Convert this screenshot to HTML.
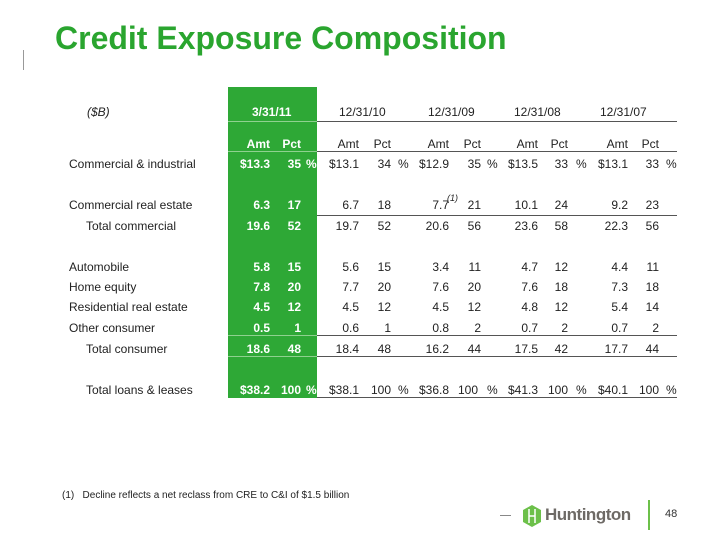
<!DOCTYPE html>
<html><head><meta charset="utf-8"><style>
body{margin:0;width:720px;height:540px;background:#fff;position:relative;overflow:hidden;font-family:"Liberation Sans",Arial,sans-serif;color:#222}
div{position:absolute;white-space:nowrap}
.c{font-size:12px;line-height:16px;width:70px;text-align:right}
.l{font-size:12px;line-height:16px}
.w{color:#fff;font-weight:bold}
.ln{height:1px;background:#555;left:317px;width:360px}
.gl{height:1px;background:#8fd18f;left:228px;width:89px}
</style></head><body>
<div style="left:23px;top:50px;width:1px;height:20px;background:#999"></div>
<div style="left:55px;top:20px;font-size:32px;font-weight:bold;color:#2aa52f">Credit Exposure Composition</div>
<div style="left:228px;top:87px;width:89px;height:311px;background:#2ea836"></div>
<div class="gl" style="top:121px"></div><div class="gl" style="top:151px"></div>
<div class="gl" style="top:335px"></div><div class="gl" style="top:356px"></div>
<div class="ln" style="top:121px"></div><div class="ln" style="top:151px"></div>
<div class="ln" style="top:215px"></div><div class="ln" style="top:335px"></div>
<div class="ln" style="top:356px"></div><div class="ln" style="top:397px"></div>

<div class="l" style="left:87px;top:104px;font-style:italic">($B)</div>
<div class="l w" style="left:252px;top:104px">3/31/11</div>
<div class="l" style="left:339px;top:104px">12/31/10</div>
<div class="l" style="left:428px;top:104px">12/31/09</div>
<div class="l" style="left:514px;top:104px">12/31/08</div>
<div class="l" style="left:600px;top:104px">12/31/07</div>

<div class="l" style="left:69px;top:156px">Commercial &amp; industrial</div>
<div class="l" style="left:69px;top:197px">Commercial real estate</div>
<div class="l" style="left:86px;top:218px">Total commercial</div>
<div class="l" style="left:69px;top:259px">Automobile</div>
<div class="l" style="left:69px;top:279px">Home equity</div>
<div class="l" style="left:69px;top:299px">Residential real estate</div>
<div class="l" style="left:69px;top:320px">Other consumer</div>
<div class="l" style="left:86px;top:341px">Total consumer</div>
<div class="l" style="left:86px;top:382px">Total loans &amp; leases</div>

<div class="c w" style="left:200px;top:136px">Amt</div><div class="c w" style="left:231px;top:136px">Pct</div>
<div class="c" style="left:289px;top:136px">Amt</div><div class="c" style="left:321px;top:136px">Pct</div>
<div class="c" style="left:379px;top:136px">Amt</div><div class="c" style="left:411px;top:136px">Pct</div>
<div class="c" style="left:468px;top:136px">Amt</div><div class="c" style="left:498px;top:136px">Pct</div>
<div class="c" style="left:558px;top:136px">Amt</div><div class="c" style="left:589px;top:136px">Pct</div>

<div class="c w" style="left:200px;top:156px">$13.3</div><div class="c w" style="left:231px;top:156px">35</div><div class="l w" style="left:306px;top:156px">%</div>
<div class="c" style="left:289px;top:156px">$13.1</div><div class="c" style="left:321px;top:156px">34</div><div class="l" style="left:398px;top:156px">%</div>
<div class="c" style="left:379px;top:156px">$12.9</div><div class="c" style="left:411px;top:156px">35</div><div class="l" style="left:487px;top:156px">%</div>
<div class="c" style="left:468px;top:156px">$13.5</div><div class="c" style="left:498px;top:156px">33</div><div class="l" style="left:576px;top:156px">%</div>
<div class="c" style="left:558px;top:156px">$13.1</div><div class="c" style="left:589px;top:156px">33</div><div class="l" style="left:666px;top:156px">%</div>

<div class="c w" style="left:200px;top:197px">6.3</div><div class="c w" style="left:231px;top:197px">17</div>
<div class="c" style="left:289px;top:197px">6.7</div><div class="c" style="left:321px;top:197px">18</div>
<div class="c" style="left:379px;top:197px">7.7</div><div class="c" style="left:411px;top:197px">21</div>
<div style="left:447px;top:193px;font-size:9px;font-style:italic">(1)</div>
<div class="c" style="left:468px;top:197px">10.1</div><div class="c" style="left:498px;top:197px">24</div>
<div class="c" style="left:558px;top:197px">9.2</div><div class="c" style="left:589px;top:197px">23</div>

<div class="c w" style="left:200px;top:218px">19.6</div><div class="c w" style="left:231px;top:218px">52</div>
<div class="c" style="left:289px;top:218px">19.7</div><div class="c" style="left:321px;top:218px">52</div>
<div class="c" style="left:379px;top:218px">20.6</div><div class="c" style="left:411px;top:218px">56</div>
<div class="c" style="left:468px;top:218px">23.6</div><div class="c" style="left:498px;top:218px">58</div>
<div class="c" style="left:558px;top:218px">22.3</div><div class="c" style="left:589px;top:218px">56</div>

<div class="c w" style="left:200px;top:259px">5.8</div><div class="c w" style="left:231px;top:259px">15</div>
<div class="c" style="left:289px;top:259px">5.6</div><div class="c" style="left:321px;top:259px">15</div>
<div class="c" style="left:379px;top:259px">3.4</div><div class="c" style="left:411px;top:259px">11</div>
<div class="c" style="left:468px;top:259px">4.7</div><div class="c" style="left:498px;top:259px">12</div>
<div class="c" style="left:558px;top:259px">4.4</div><div class="c" style="left:589px;top:259px">11</div>

<div class="c w" style="left:200px;top:279px">7.8</div><div class="c w" style="left:231px;top:279px">20</div>
<div class="c" style="left:289px;top:279px">7.7</div><div class="c" style="left:321px;top:279px">20</div>
<div class="c" style="left:379px;top:279px">7.6</div><div class="c" style="left:411px;top:279px">20</div>
<div class="c" style="left:468px;top:279px">7.6</div><div class="c" style="left:498px;top:279px">18</div>
<div class="c" style="left:558px;top:279px">7.3</div><div class="c" style="left:589px;top:279px">18</div>

<div class="c w" style="left:200px;top:299px">4.5</div><div class="c w" style="left:231px;top:299px">12</div>
<div class="c" style="left:289px;top:299px">4.5</div><div class="c" style="left:321px;top:299px">12</div>
<div class="c" style="left:379px;top:299px">4.5</div><div class="c" style="left:411px;top:299px">12</div>
<div class="c" style="left:468px;top:299px">4.8</div><div class="c" style="left:498px;top:299px">12</div>
<div class="c" style="left:558px;top:299px">5.4</div><div class="c" style="left:589px;top:299px">14</div>

<div class="c w" style="left:200px;top:320px">0.5</div><div class="c w" style="left:231px;top:320px">1</div>
<div class="c" style="left:289px;top:320px">0.6</div><div class="c" style="left:321px;top:320px">1</div>
<div class="c" style="left:379px;top:320px">0.8</div><div class="c" style="left:411px;top:320px">2</div>
<div class="c" style="left:468px;top:320px">0.7</div><div class="c" style="left:498px;top:320px">2</div>
<div class="c" style="left:558px;top:320px">0.7</div><div class="c" style="left:589px;top:320px">2</div>

<div class="c w" style="left:200px;top:341px">18.6</div><div class="c w" style="left:231px;top:341px">48</div>
<div class="c" style="left:289px;top:341px">18.4</div><div class="c" style="left:321px;top:341px">48</div>
<div class="c" style="left:379px;top:341px">16.2</div><div class="c" style="left:411px;top:341px">44</div>
<div class="c" style="left:468px;top:341px">17.5</div><div class="c" style="left:498px;top:341px">42</div>
<div class="c" style="left:558px;top:341px">17.7</div><div class="c" style="left:589px;top:341px">44</div>

<div class="c w" style="left:200px;top:382px">$38.2</div><div class="c w" style="left:231px;top:382px">100</div><div class="l w" style="left:306px;top:382px">%</div>
<div class="c" style="left:289px;top:382px">$38.1</div><div class="c" style="left:321px;top:382px">100</div><div class="l" style="left:398px;top:382px">%</div>
<div class="c" style="left:379px;top:382px">$36.8</div><div class="c" style="left:408px;top:382px">100</div><div class="l" style="left:487px;top:382px">%</div>
<div class="c" style="left:468px;top:382px">$41.3</div><div class="c" style="left:498px;top:382px">100</div><div class="l" style="left:576px;top:382px">%</div>
<div class="c" style="left:558px;top:382px">$40.1</div><div class="c" style="left:589px;top:382px">100</div><div class="l" style="left:666px;top:382px">%</div>

<div style="left:62px;top:490px;font-size:10px">(1)&nbsp;&nbsp;&nbsp;Decline reflects a net reclass from CRE to C&amp;I of $1.5 billion</div>

<div style="left:500px;top:515px;width:11px;height:1px;background:#888"></div>
<svg style="position:absolute;left:522px;top:505px" width="20" height="22" viewBox="0 0 20 22"><polygon points="10,0 19,5 19,17 10,22 1,17 1,5" fill="#6cc04a"/><path d="M7 4v14M13 4v14M7 11h6" stroke="#fff" stroke-width="1.5" fill="none"/></svg>
<div style="left:545px;top:505px;font-size:17px;font-weight:bold;color:#6e6a66;letter-spacing:-0.5px">Huntington</div>
<div style="left:648px;top:500px;width:2px;height:30px;background:#6cc04a"></div>
<div style="left:665px;top:508px;font-size:11px;color:#333">48</div>
</body></html>
